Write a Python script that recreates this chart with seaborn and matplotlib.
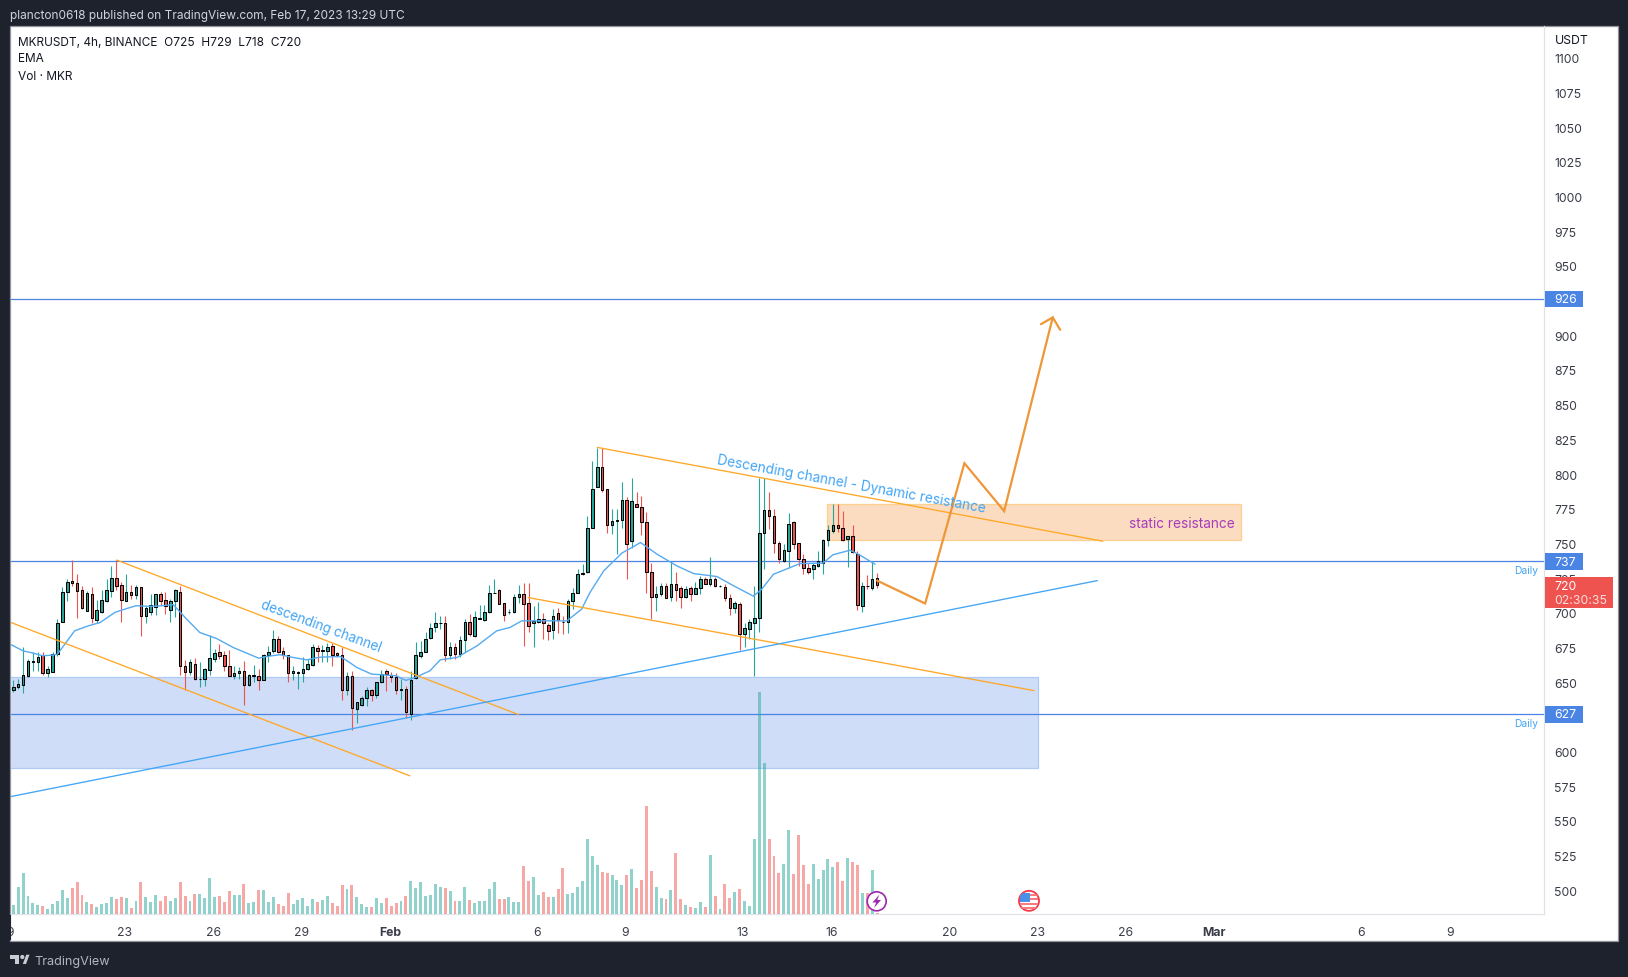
import numpy as np
import pandas as pd
import seaborn as sns
import matplotlib
matplotlib.use("Agg")
import matplotlib.pyplot as plt
from matplotlib.patches import Rectangle, Circle, Polygon

# candles (4h, MKRUSDT), index 0 is the first bar visible on the left
open_ = [644.5,646.7,648.1,654.6,664.6,664.7,669.5,656.8,657.5,670,
         693.5,714.7,722.6,721.2,716.3,701.5,713.2,694.7,700.7,708.4,
         715.9,724.8,719.7,708.7,714.7,713,718.3,697.9,700.7,703.9,
         713.2,709.1,701.7,708.2,714.7,661.8,657.5,663,652,652,
         658.9,666.6,672.1,669.3,662,654.6,656.3,657.7,648.1,654.6,
         654.1,651.7,669.7,672.6,681,672.6,669.3,656.3,656.8,656.8,
         659.7,662.5,674.3,672.8,672.6,675.8,670.7,669.3,644.5,654.1,
         630.8,633.7,638.8,644.3,640.9,649.8,657.7,654.9,653.9,644.6,
         644.8,627,653,669,672.1,682,689.9,692.4,692.5,669.4,
         675,670.2,680.5,693.7,683.1,695.8,695,700.9,714.4,716.3,
         706.9,700.6,700.7,711.5,713.2,706.9,692.3,693.5,695.2,691.1,
         687.7,700.2,693.7,693.5,708.6,714.6,727.6,729.5,761.4,790.8,
         805.4,789.5,763.6,766.4,766.7,781.6,751.8,778.7,775.9,765.1,
         729.7,711.7,713.2,719.6,711.5,721.1,718,711.7,718.2,713.9,
         718,724,720.6,724,719.4,718.9,711,703.6,706,684.8,
         688.4,693,696.6,757.6,773.9,770.1,750.6,737.4,744.6,765.1,
         750.4,739.1,732.6,731.2,733.8,735.7,752.8,758.6,763.6,761.4,
         753,755.7,742.7,705.2,719.5,718.2,725]
high = [651.5,652.2,675,666.6,671.9,671.9,671.4,661.8,671.4,695.5,
        718.3,724.3,738,727.9,719.5,715.9,718.3,709.1,716.3,724.3,
        733.9,738,721.9,727.9,720,720,718.3,705,713.5,713.5,
        714.7,715.1,709.9,717.1,719.5,666.1,666.6,667.1,664.2,659.9,
        683.9,673.8,677.4,672.6,673.1,661.8,660.6,665.4,655.8,662.3,
        659.4,670.2,676.2,687.5,683.4,675,669.5,661.8,657.7,667.8,
        666.6,677.4,676.7,676.7,678.2,678.2,671.4,675,657,658.2,
        635.9,640.2,646.2,645,650.3,658.9,659.4,657,656.3,652.2,
        647.4,658.2,678.6,679.8,685.8,693,700.7,698,697.8,678.6,
        678.1,683.4,695.4,699,701.4,705.5,705.5,720.1,724.2,717,
        707.4,702.6,713.4,720.1,721.8,721.8,705,708.1,699.5,693,
        702.6,703.1,697.8,709.8,718.2,731.4,735,769.9,809.5,819.1,
        819.1,789.5,774.7,774.7,794.4,783.1,797.5,787.4,784.3,772.3,
        735.7,719.4,721.8,721.8,737.4,729.5,719.4,719.4,719.4,722.3,
        726.6,726.1,740.3,726.1,719.9,720.6,713.9,708.6,707.9,693,
        695.4,719.4,797.5,797.5,786.7,774.7,751.8,749.4,771.8,766.3,
        750.6,742.2,736.2,736.2,744.2,753.5,763.1,778.3,778.3,773.5,
        755.4,763.1,744.6,722.3,727,737.5,729]
low = [642.6,645,642.1,653.4,658,658.2,655.1,653.9,657.5,669,
       693.5,708.7,719.5,696.2,702.7,701,693,693,699.8,707.5,
       711.1,716.3,693.5,708.2,710,710,683.4,693,698.3,698.3,
       705.5,699,693.5,697.1,655.1,644.5,655.1,651.7,646.4,647.4,
       655.1,664.2,666.6,658,654.1,652.2,652.2,633.7,647.4,649.8,
       644.5,651.7,664.2,671,671,666.6,650.3,651.7,645.2,650.3,
       659,661.8,664.7,664.7,664.7,661.8,667.8,637.1,640.7,615.2,
       620.5,633,633,636.1,638.3,649.3,643.8,649.8,641.4,637.1,
       623.9,622.7,652.2,667.1,671.4,681,685.8,688,665.4,667,
       667,667.8,671.4,683.4,682.9,695.4,694.2,700.2,714.1,706.2,
       694.2,699,700.2,707.4,676.2,685.8,675.5,692.3,681,680.5,
       681,685.4,684.6,685.3,702.6,714.1,727.1,729,761.4,790.3,
       786.7,757.4,756.6,742.2,761.4,724.2,747,775.9,755.9,714.1,
       695.4,701.4,712.2,710.3,708.6,708.6,703.8,710.3,708.6,713.4,
       713.4,720.4,719.4,718.9,718.9,708.6,698.3,700.2,673.3,675.7,
       681,654.6,685.8,731.9,760.2,743.4,735.7,736.7,732.6,745.8,
       733.8,727.8,727.8,724.2,733.3,727.8,748.2,757.8,758.3,751.8,
       733.1,743.4,701.9,700.7,717,716.5,718]
close = [646.7,648.4,654.9,665,665,667.8,656.5,659.2,670,693,
         714.7,721.9,721.6,715.9,703.1,714,696,701.7,708.9,716.1,
         724.8,719.5,709.4,714.7,713,718.3,697.9,703.1,705.5,713.2,
         708.7,705.1,708.4,716.1,661.3,657.5,664.2,652,652.3,659.2,
         667.1,670.7,669,661.8,654.6,656.3,657.7,648.1,654.9,654.9,
         651.7,669.7,672.1,681,671.9,669.5,656.8,657.7,657.5,659.2,
         662.8,675,672.6,673.1,675.3,669.7,669.7,644.5,654.1,631.6,
         635.4,638.5,644.3,640.9,649.8,656,656,653.4,644.5,644.8,
         628.2,651.5,669.3,672.1,680.8,688.7,692.3,692.6,669.4,675,
         670.2,680.7,693.2,684.6,697.1,696,700.4,714.6,714.6,706.4,
         698.5,700.8,711.7,713.2,706.4,690.6,694,695.2,692.3,687,
         697.8,694.9,693.5,708.8,714.6,727.6,729,761.4,789.5,805.4,
         788.8,763.6,766.3,766.6,781.6,749.9,780.9,776.3,765.1,729.5,
         711.7,713.2,719.6,710.8,721.1,716.5,711.5,716.8,713.6,718.2,
         724,721.1,724,719.2,719.5,710.8,703.6,706.9,684.8,688.7,
         693.2,695.9,757.4,773.9,769.9,750.6,739.1,745.6,763.9,749.9,
         739.1,732.6,729.5,734.3,737,752.8,760,763.6,761.4,752.6,
         755.4,743.9,705.7,719.6,719,724,720]
volume = [28,82,124,55,34,28,25,16,31,40,
          73,49,79,97,58,37,31,22,31,34,
          52,46,52,49,19,40,97,52,37,58,
          40,55,40,49,97,55,40,61,61,49,
          109,52,55,37,70,58,58,91,34,37,
          73,73,37,52,31,25,64,31,43,49,
          25,46,37,43,55,34,25,88,76,88,
          52,31,22,22,49,34,49,25,34,40,
          55,100,79,97,55,58,91,82,79,70,
          40,40,82,43,34,40,40,76,97,46,
          46,52,37,37,145,100,112,58,67,52,
          52,76,139,61,64,82,100,226,175,148,
          127,124,118,103,88,118,136,79,103,325,
          130,82,49,46,73,184,46,28,22,19,
          37,22,178,55,16,91,49,67,76,40,
          25,226,667,454,226,175,124,151,253,121,
          238,148,91,151,106,133,166,142,157,100,
          169,157,148,64,64,133,4]

# EMA at these bars
ema_idx = [-1,2,4,6,8,9,10.5,12.5,15.3,17.7,20.7,22.8,25,28.5,32.6,35.3,38,41.4,44.8,50,
           51.6,54.3,57,59.8,62.5,66.6,68,70,73,76,78,80,81.9,84.9,87,90.4,94.5,98.5,
           101.2,103.6,107.4,112.8,115.8,117.5,120.3,124,127.8,131.2,135.2,138.6,143.4,
           146.8,150.8,152.5,154.9,158.3,160.3,165,167,170.5,172.2,175.6]
ema_val = [678,672.6,671,669,669.5,670.2,677.4,687,690.6,693,700.3,702.7,705.1,704.6,705.8,695.5,685.8,681.5,675,667.3,
           668.5,669.8,667.8,666.1,668,668.5,665.4,660.6,655.8,655.1,654.6,651.3,653.4,658.2,666.1,667.8,676.2,687,
           689.4,694.2,694.2,694.2,702.6,714.6,730.2,743,750.6,742.2,733.8,728.3,726.1,
           719.4,712,717,727.8,732.6,735.5,735.8,741.8,745.1,742.2,735]

# price and date axis
price_ticks = list(range(500, 1101, 25))
date_idx = [-0.6,23,41,59,77,107,125,149,167,191,209,227,245,275,293]
date_labels = ["19","23","26","29","Feb","6","9","13","16","20","23","26","Mar","6","9"]

# horizontal levels and drawings, as (bar index, price)
levels = [926, 737, 627]
channel_a_x, channel_a_y = [-1, 80.8], [693.7, 582.5]
channel_b_x, channel_b_y = [21.07, 102.9], [738, 626.7]
channel_c_x, channel_c_y = [104.9, 208], [711, 643.9]
channel_d_x, channel_d_y = [119, 222], [819.2, 751.6]
trend_x, trend_y = [-1, 220.9], [567.2, 723.2]
path_x, path_y = [176, 185.8, 193.8, 201.9, 211.8], [723.2, 706.7, 807.8, 773.3, 912.9]
head_x, head_y = [209.4, 211.8, 213.3], [908, 912.9, 904]
demand_x, demand_y = [-5, 208.8], [587.8, 653.4]
supply_x, supply_y = [165.9, 250.1], [752.8, 778.6]

W, H = 1628, 978
DARK = "#1e222d"
UP, DOWN = "#26a69a", "#ef5350"
ORANGE = "#ffa726"
BLUE = "#42a5f5"
LEVEL = "#4a84e4"

sns.set_theme(style="white")
plt.rcParams["font.family"] = ["Inter", "DejaVu Sans"]

df = pd.DataFrame({"idx": np.arange(len(open_)), "open": open_, "high": high, "low": low,
                   "close": close, "vol": volume})
df["dir"] = np.where(df["close"] >= df["open"], "up", "down")
df["col"] = df["dir"].map({"up": UP, "down": DOWN})


def box(x0, y0, x1, y1):
    return [x0 / W, 1 - y1 / H, (x1 - x0) / W, (y1 - y0) / H]


fig = plt.figure(figsize=(W / 100, H / 100), dpi=100, facecolor=DARK)
fig.add_artist(Rectangle((10 / W, 1 - 942 / H), 1607.5 / W, 915 / H, transform=fig.transFigure,
                         facecolor="white", edgecolor="#8f9298", lw=0.9))

xlim = (-0.57, 311.9)
ylim = (482.7, 1122.9)

ax = fig.add_axes(box(10.5, 27, 1544, 915.3))
ax.set_facecolor("none")
ax.set_zorder(2)

ax.add_patch(Rectangle((demand_x[0], demand_y[0]), demand_x[1] - demand_x[0], demand_y[1] - demand_y[0],
                       facecolor="#cfddf8", edgecolor="#aecbf6", lw=0.9, zorder=1))
ax.add_patch(Rectangle((supply_x[0], supply_y[0]), supply_x[1] - supply_x[0], supply_y[1] - supply_y[0],
                       facecolor="#fbdcc0", edgecolor="#fdd08f", lw=0.9, zorder=1))

for lvl in levels:
    ax.axhline(lvl, color=LEVEL, lw=0.9, zorder=2)

# candles
ax.vlines(df["idx"], df["low"], df["high"], colors=df["col"], lw=0.8, zorder=3)
ax.bar(df["idx"], (df["close"] - df["open"]).abs(), bottom=df[["open", "close"]].min(axis=1),
       width=0.52, color=df["col"], edgecolor="black", lw=0.75, zorder=4)

sns.lineplot(x=ema_idx, y=ema_val, ax=ax, color="#55aaf0", lw=1.0, sort=False, estimator=None, zorder=5)

for lx, ly in [(channel_a_x, channel_a_y), (channel_b_x, channel_b_y),
               (channel_c_x, channel_c_y), (channel_d_x, channel_d_y)]:
    ax.plot(lx, ly, color=ORANGE, lw=0.95, zorder=6)
ax.plot(trend_x, trend_y, color=BLUE, lw=0.95, zorder=6)
ax.plot(path_x, path_y, color="#ee9638", lw=1.6, zorder=7, solid_joinstyle="miter")
ax.plot(head_x, head_y, color="#ee9638", lw=1.6, zorder=7, solid_joinstyle="miter")

ax.text(62.8, 690.6, "descending channel", color=BLUE, fontsize=9.7, rotation=-20.3,
        ha="center", va="center", rotation_mode="anchor", zorder=8)
ax.text(170.8, 793.5, "Descending channel - Dynamic resistance", color=BLUE, fontsize=9.8,
        rotation=-10.3, ha="center", va="center", rotation_mode="anchor", zorder=8)
ax.text(248.9, 765, "static resistance", color="#a63cbc", fontsize=9.8, ha="right", va="center", zorder=8)

ax.set_xlim(xlim)
ax.set_ylim(ylim)
ax.yaxis.tick_right()
ax.set_yticks(price_ticks)
ax.set_yticklabels([str(t) for t in price_ticks])
ax.tick_params(axis="y", length=0, pad=7.5, labelsize=8.8, labelcolor="#3a3d48")
ax.set_xticks([])
ax.set_xlabel("")
ax.set_ylabel("")
for s in ["top", "left"]:
    ax.spines[s].set_visible(False)
ax.spines["right"].set_color("#dfe1e6")
ax.spines["right"].set_linewidth(0.9)
ax.spines["bottom"].set_color("#e0e3eb")
ax.spines["bottom"].set_linewidth(0.9)

# volume pane sits on the same box, 3 units are one pixel
ax_vol = fig.add_axes(box(10.5, 27, 1544, 915.3))
ax_vol.set_facecolor("none")
ax_vol.set_zorder(3)
sns.barplot(data=df, x="idx", y="vol", hue="dir", palette={"up": UP, "down": DOWN}, native_scale=True,
            dodge=False, width=0.6, alpha=0.5, saturation=1, linewidth=0, legend=False, ax=ax_vol)
ax_vol.set_xlim(xlim)
ax_vol.set_ylim(0, 888.3 * 3)
ax_vol.axis("off")

# date strip
ax_time = fig.add_axes(box(9, 915.3, 1542.5, 941.5))
ax_time.set_facecolor("none")
ax_time.set_zorder(4)
ax_time.set_xlim(xlim)
ax_time.set_ylim(0, 1)
ax_time.set_yticks([])
ax_time.set_xticks(date_idx)
ax_time.set_xticklabels(date_labels)
ax_time.tick_params(axis="x", length=0, pad=-10.7, labelsize=8.8, labelcolor="#3a3d48")
for lab in ax_time.get_xticklabels():
    lab.set_clip_box(ax_time.bbox)
    lab.set_clip_on(True)
    if lab.get_text() in ("Feb", "Mar"):
        lab.set_fontweight("bold")
for s in ax_time.spines.values():
    s.set_visible(False)

# overlay in pixels: tags, header, footer, icons
ov = fig.add_axes([0, 0, 1, 1])
ov.set_xlim(0, W)
ov.set_ylim(H, 0)
ov.axis("off")
ov.set_zorder(5)

ov.text(10, 15.5, "plancton0618 published on TradingView.com, Feb 17, 2023 13:29 UTC",
        color="#d1d4dc", fontsize=8.55, va="center")
ov.text(18, 42.5, "MKRUSDT, 4h, BINANCE  O725  H729  L718  C720", color="#131722", fontsize=8.55, va="center")
ov.text(18, 59.5, "EMA", color="#131722", fontsize=8.55, va="center")
ov.text(18, 76.5, "Vol · MKR", color="#131722", fontsize=8.55, va="center")
ov.text(1554.5, 40.5, "USDT", color="#131722", fontsize=8.8, va="center")

for ly, txt in [(300, "926"), (562.3, "737"), (715.3, "627")]:
    ov.add_patch(Rectangle((1544.5, ly - 8.3), 38.5, 16.6, facecolor="#4a84e4", edgecolor="none"))
    ov.text(1554.5, ly + 0.2, txt, color="white", fontsize=8.8, va="center")
ov.add_patch(Rectangle((1544.5, 578), 68.5, 31, facecolor="#ef5350", edgecolor="none"))
ov.text(1554.5, 586.8, "720", color="white", fontsize=8.8, va="center")
ov.text(1554.5, 600.8, "02:30:35", color="#fbdcdb", fontsize=8.8, va="center")

ov.text(1538, 571, "Daily", color=BLUE, fontsize=7.4, va="center", ha="right")
ov.text(1538, 723.7, "Daily", color=BLUE, fontsize=7.4, va="center", ha="right")

# left edge of the pane cuts the first date label
ov.add_patch(Rectangle((9, 916), 1.5, 25, facecolor=DARK, edgecolor="none"))

# event icons
ov.add_patch(Circle((876.7, 902.3), 9.5, facecolor="white", edgecolor="#9c27b0", lw=1.2))
ov.add_patch(Polygon([(879.5, 895.5), (872.5, 903.5), (876.2, 903.5), (874, 909), (881, 901), (877.2, 901)],
                     closed=True, facecolor="#9c27b0", edgecolor="none"))
flag = Circle((1029, 901.8), 10, facecolor="white", edgecolor="#f23645", lw=1.3)
ov.add_patch(flag)
for sy, sh in [(894.5, 2.2), (899, 2.2), (903.5, 2.2), (907.5, 2.2)]:
    st = Rectangle((1020, sy), 18, sh, facecolor="#f77c80", edgecolor="none")
    ov.add_patch(st)
    st.set_clip_path(flag)
canton = Rectangle((1020, 894), 9.5, 8.5, facecolor="#4a90e8", edgecolor="none")
ov.add_patch(canton)
canton.set_clip_path(flag)

# footer logo
ov.add_patch(Polygon([(10, 955.7), (19, 955.7), (19, 965), (14.5, 965), (14.5, 960), (10, 960)],
                     closed=True, facecolor="#c9ccd3", edgecolor="none"))
ov.add_patch(Circle((22.3, 958), 2.1, facecolor="#c9ccd3", edgecolor="none"))
ov.add_patch(Polygon([(22.8, 965), (26.3, 955.7), (29.5, 955.7), (26, 965)],
                     closed=True, facecolor="#c9ccd3", edgecolor="none"))
ov.text(34, 961.5, "TradingView", color="#b2b5be", fontsize=9.1, va="center")

fig.savefig("out.png", dpi=100, facecolor=DARK)
